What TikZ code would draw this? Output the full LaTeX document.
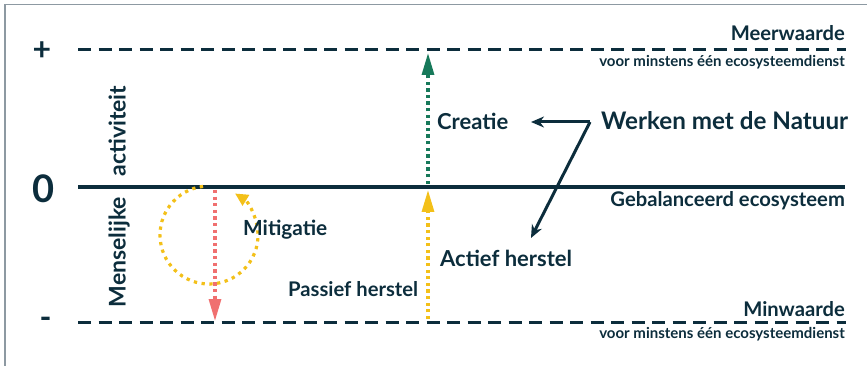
\documentclass[tikz,border=0pt]{standalone}
\usepackage{fontspec}
\setmainfont{Lato}
\usetikzlibrary{arrows.meta}
\definecolor{dark}{HTML}{0C2D3C}
\definecolor{grn}{HTML}{17795A}
\definecolor{yel}{HTML}{F3C019}
\definecolor{salmon}{HTML}{F07070}
\definecolor{frame}{HTML}{8D99A2}
\newcommand{\fsz}[1]{\fontsize{#1}{#1}\selectfont}
\begin{document}
\begin{tikzpicture}[x=1pt,y=-1pt,
  lbl/.style={inner sep=0pt, text=dark, font=\bfseries\fsz{20.2}},
  biglbl/.style={lbl, font=\bfseries\fsz{22}},
  smalllbl/.style={lbl, font=\bfseries\fsz{15}},
  sym/.style={inner sep=0pt, text=dark, font=\bfseries\fsz{32}},
  dashline/.style={draw=dark, line width=3pt, dash pattern=on 13pt off 7.5pt},
  zeroline/.style={draw=dark, line width=4pt},
  dotarrow/.style={line width=3.2pt, dash pattern=on 3.3pt off 3.3pt, -{Triangle[length=22pt,width=12pt]}},
  zarrow/.style={draw=dark, line width=3pt, -{Stealth[length=13pt,width=11pt]}},
  framestyle/.style={draw=frame, line width=1.5pt}
]
\useasboundingbox (0,0) rectangle (867,366);
% frame
\coordinate (fb) at (5,366);
\coordinate (ftl) at (5,4.5);
\coordinate (ftr) at (867,4.5);
\draw[framestyle] (fb) -- (ftl) -- (ftr);

% level lines
\coordinate (pL) at (78,49.5); \coordinate (pR) at (846,49.5);
\coordinate (zL) at (78,187);  \coordinate (zR) at (845,187);
\coordinate (mL) at (78,322);  \coordinate (mR) at (846,322);
\draw[dashline] (pL) -- (pR);
\draw[zeroline] (zL) -- (zR);
\draw[dashline] (mL) -- (mR);

% level symbols
\node[sym] (plus) at (42,51) {+};
\node[sym, font=\bfseries\fsz{38}] (zero) at (43.5,189) {0};
\node[sym] (minus) at (45.7,322.7) {-};

% right labels
\node[lbl, anchor=base east] (meer) at (845,40.5) {Meerwaarde};
\node[smalllbl, anchor=base east] (voor1) at (845,66.5) {voor minstens één ecosysteemdienst};
\node[lbl, anchor=base east] (geb) at (845,206.7) {Gebalanceerd ecosysteem};
\node[lbl, anchor=base east] (min) at (845,316.7) {Minwaarde};
\node[smalllbl, anchor=base east] (voor2) at (845,338.3) {voor minstens één ecosysteemdienst};

% vertical axis label
\node[lbl, font=\bfseries\fsz{23}, rotate=90, anchor=base] (mens) at (125.5,252) {Menselijke};
\node[lbl, font=\bfseries\fsz{23}, rotate=90, anchor=base] (act) at (125.5,131) {activiteit};

% arrows
\coordinate (gS) at (428,184); \coordinate (gE) at (428,53);
\coordinate (yS) at (428,319); \coordinate (yE) at (428,190);
\coordinate (rS) at (215,190); \coordinate (rE) at (215,321);
\draw[dotarrow, color=grn] (gS) -- (gE);
\draw[dotarrow, color=yel] (yS) -- (yE);
\draw[dotarrow, color=salmon] (rS) -- (rE);

% mitigation circle
\coordinate (mc) at (209,235);
\draw[color=yel, line width=3.2pt, dash pattern=on 3.3pt off 4.5pt, -{Triangle[length=13pt,width=12pt]}]
  (mc) ++(-97:49) arc[start angle=-97, end angle=-418, radius=49];

% text labels
\node[biglbl, anchor=base west] (creatie) at (437,130) {Creatie};
\node[lbl, font=\bfseries\fsz{20.8}, anchor=base west] (mitig) at (243,235) {Mitigatie};
\node[lbl, anchor=base west] (passief) at (288,296) {Passief herstel};
\node[biglbl, anchor=base west] (actief) at (440,266.7) {Actief herstel};
\node[biglbl, font=\bfseries\fsz{24.2}, anchor=base west] (werken) at (601,129.5) {Werken met de Natuur};

% Z arrows
\coordinate (zc) at (590,122);
\coordinate (ctip) at (531,122);
\coordinate (atip) at (531,238);
\draw[zarrow] (zc) -- (ctip);
\draw[zarrow] (zc) -- (atip);
\end{tikzpicture}
\end{document}
